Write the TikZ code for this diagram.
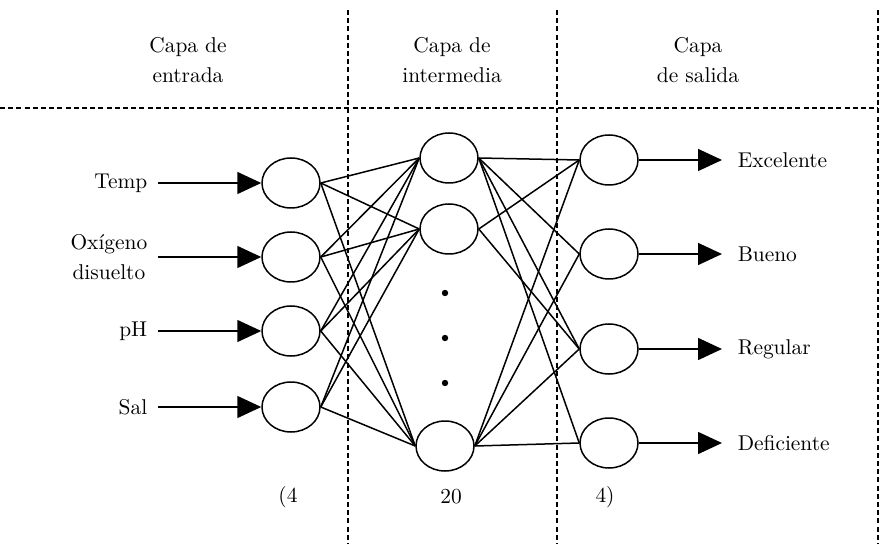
\documentclass[tikz,border=0pt]{standalone}
\usetikzlibrary{shapes.geometric,arrows.meta}
\begin{document}
\begin{tikzpicture}[x=0.5pt, y=-0.5pt, line width=0.75pt,
  neuron/.style = {draw, ellipse, minimum width=29pt, minimum height=25pt, inner sep=0pt},
  sep/.style = {dash pattern=on 2.5pt off 1.6pt, line width=0.6pt},
  flecha/.style = {-{Triangle[length=12pt,width=11pt]}},
  lbl/.style = {align=center, inner sep=0pt, font=\fontsize{10.7}{15}\selectfont}]
  \useasboundingbox (0,0) rectangle (886,544);
  % separadores
  \draw[sep] (0,108) -- (878,108);
  \draw[sep] (348,10) -- (348,544);
  \draw[sep] (557,10) -- (557,544);
  \draw[sep] (878,10) -- (878,544);
  % titulos
  \node[lbl] (t1) at (188,60) {Capa de\\entrada};
  \node[lbl] (t2) at (452,60) {Capa de\\intermedia};
  \node[lbl] (t3) at (698,60) {Capa\\de salida};
  % capa de entrada
  \node[neuron] (in1) at (291,183) {};
  \node[neuron] (in2) at (291,257) {};
  \node[neuron] (in3) at (291,331) {};
  \node[neuron] (in4) at (291,407) {};
  \node[lbl, anchor=east] (temp) at (148,183) {Temp};
  \node[lbl, anchor=east] (oxi) at (148,257) {Oxígeno\\disuelto};
  \node[lbl, anchor=east] (ph) at (148,331) {pH};
  \node[lbl, anchor=east] (sal) at (148,407) {Sal};
  % capa intermedia
  \node[neuron] (h1) at (449,158) {};
  \node[neuron] (h2) at (449,229) {};
  \node[neuron] (h3) at (445,446) {};
  \fill (445,293) circle (1.6pt);
  \fill (445,338) circle (1.6pt);
  \fill (445,383) circle (1.6pt);
  % capa de salida
  \node[neuron] (o1) at (609,160) {};
  \node[neuron] (o2) at (609,254) {};
  \node[neuron] (o3) at (609,349) {};
  \node[neuron] (o4) at (609,443) {};
  \node[lbl, anchor=west] (exc) at (737,160) {Excelente};
  \node[lbl, anchor=west] (bue) at (737,254) {Bueno};
  \node[lbl, anchor=west] (reg) at (737,349) {Regular};
  \node[lbl, anchor=west] (def) at (737,443) {Deficiente};
  % numero de neuronas
  \node[lbl] (n1) at (288,497) {(4};
  \node[lbl] (n2) at (451,497) {20};
  \node[lbl] (n3) at (605,497) {4)};
  % entradas y salidas
  \draw[flecha, shorten <=5pt] (temp) -- (in1);
  \draw[flecha, shorten <=5pt] (oxi) -- (in2);
  \draw[flecha, shorten <=5pt] (ph) -- (in3);
  \draw[flecha, shorten <=5pt] (sal) -- (in4);
  \draw[flecha, shorten >=7.5pt] (o1) -- (exc);
  \draw[flecha, shorten >=7.5pt] (o2) -- (bue);
  \draw[flecha, shorten >=7.5pt] (o3) -- (reg);
  \draw[flecha, shorten >=7.5pt] (o4) -- (def);
  % entrada - intermedia
  \draw (in1.east) -- (h1.west);
  \draw (in1.east) -- (h2.west);
  \draw (in1.east) -- (h3.west);
  \draw (in2.east) -- (h1.west);
  \draw (in2.east) -- (h2.west);
  \draw (in2.east) -- (h3.west);
  \draw (in3.east) -- (h1.west);
  \draw (in3.east) -- (h2.west);
  \draw (in3.east) -- (h3.west);
  \draw (in4.east) -- (h1.west);
  \draw (in4.east) -- (h2.west);
  \draw (in4.east) -- (h3.west);
  % intermedia - salida
  \draw (h1.east) -- (o1.west);
  \draw (h1.east) -- (o2.west);
  \draw (h1.east) -- (o3.west);
  \draw (h1.east) -- (o4.west);
  \draw (h2.east) -- (o1.west);
  \draw (h2.east) -- (o3.west);
  \draw (h3.east) -- (o1.west);
  \draw (h3.east) -- (o2.west);
  \draw (h3.east) -- (o3.west);
  \draw (h3.east) -- (o4.west);
\end{tikzpicture}
\end{document}
